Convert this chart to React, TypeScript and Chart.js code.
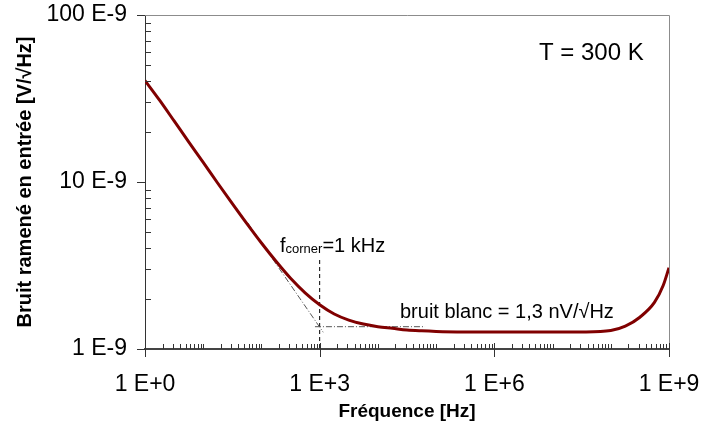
import React, { useEffect, useRef } from "react";
import { Chart, registerables } from "chart.js";

Chart.register(...registerables);

// ---- data (frequency in Hz, noise in nV/√Hz) ----
const freqHz = [1, 1.778, 3.162, 5.623, 10, 17.78, 31.62, 56.23, 100, 177.8, 316.2, 562.3, 1000, 1778, 3162, 5623, 1e4, 1.778e4, 3.162e4, 5.623e4, 1e5, 3.162e5, 1e6, 3.162e6, 1e7, 3.162e7, 1e8, 1.778e8, 3.162e8, 5.623e8, 7.943e8, 1e9];
const noiseNV = [40.5, 30.9, 23.2, 17.4, 13.1, 9.83, 7.42, 5.63, 4.31, 3.35, 2.65, 2.17, 1.84, 1.62, 1.49, 1.41, 1.36, 1.33, 1.3, 1.285, 1.275, 1.265, 1.262, 1.262, 1.262, 1.265, 1.29, 1.37, 1.55, 1.9, 2.4, 3.07];

// asymptotes
const flickerFreq = [58, 1150];
const flickerNV = [5.7, 1.26];
const whiteFreq = [830, 64500];
const whiteNV = [1.36, 1.36];
const cornerFreq = [1000, 1000];
const cornerNV = [3.41, 1];

// axes
const xTickValues = [1, 1e3, 1e6, 1e9];
const xTickLabels = ["1 E+0", "1 E+3", "1 E+6", "1 E+9"];
const yTickValues = [1, 10, 100];
const yTickLabels = ["1 E-9", "10 E-9", "100 E-9"];

const xTitle = "Fréquence [Hz]";
const yTitle = "Bruit ramené en entrée [V/√Hz]";
const tempLabel = "T = 300 K";
const whiteLabel = "bruit blanc = 1,3 nV/√Hz";

const FONT = '"Liberation Sans", Arial, Helvetica, sans-serif';

const zip = (xs: number[], ys: number[]) => xs.map((x, i) => ({ x, y: ys[i] }));

const zeroPad = (scale: any) => {
  scale.paddingLeft = 0;
  scale.paddingRight = 0;
  scale.paddingTop = 0;
  scale.paddingBottom = 0;
};

const decorPlugin = {
  id: "decor",
  afterDraw(chart: any) {
    const { ctx, chartArea, scales } = chart;
    const { left, right, top, bottom } = chartArea;
    const x = scales.x;
    const y = scales.y;
    ctx.save();
    // top & right frame
    ctx.strokeStyle = "#8c8c8c";
    ctx.lineWidth = 1;
    ctx.beginPath();
    ctx.moveTo(left, top + 0.5);
    ctx.lineTo(Math.round(right) + 0.5, top + 0.5);
    ctx.lineTo(Math.round(right) + 0.5, bottom);
    ctx.stroke();

    ctx.strokeStyle = "#333";
    ctx.lineWidth = 1;
    ctx.beginPath();
    // x minor ticks (inward)
    for (let k = 0; k < 9; k++) {
      for (let m = 1; m <= 9; m++) {
        if (m === 1 && k % 3 === 0) continue;
        const px = Math.round(x.getPixelForValue(m * Math.pow(10, k))) + 0.5;
        ctx.moveTo(px, bottom - 5);
        ctx.lineTo(px, bottom);
      }
    }
    // x major ticks
    for (const v of xTickValues) {
      const px = Math.round(x.getPixelForValue(v)) + 0.5;
      ctx.moveTo(px, bottom - 6);
      ctx.lineTo(px, bottom + 8);
    }
    // y minor ticks (inward)
    for (let k = 0; k < 2; k++) {
      for (let m = 2; m <= 9; m++) {
        const py = Math.round(y.getPixelForValue(m * Math.pow(10, k))) + 0.5;
        ctx.moveTo(left, py);
        ctx.lineTo(left + 6, py);
      }
    }
    // y major ticks
    for (const v of yTickValues) {
      const py = Math.round(y.getPixelForValue(v)) + 0.5;
      ctx.moveTo(left - 8, py);
      ctx.lineTo(left, py);
    }
    ctx.stroke();

    // annotations
    ctx.fillStyle = "#000";
    ctx.textAlign = "left";
    ctx.textBaseline = "alphabetic";
    ctx.font = `24px ${FONT}`;
    ctx.fillText(tempLabel, 539, 59.5);

    ctx.font = `20px ${FONT}`;
    ctx.fillText(whiteLabel, 400, 318);

    let cx = 280;
    ctx.fillText("f", cx, 252);
    cx += ctx.measureText("f").width;
    ctx.font = `13px ${FONT}`;
    ctx.fillText("corner", cx, 253);
    cx += ctx.measureText("corner").width;
    ctx.font = `20px ${FONT}`;
    ctx.fillText("=1 kHz", cx, 252);
    ctx.restore();
  },
};

export default function App() {
  const ref = useRef<HTMLCanvasElement | null>(null);

  useEffect(() => {
    if (!ref.current) return;
    const chart = new Chart(ref.current, {
      type: "line",
      data: {
        datasets: [
          {
            data: zip(freqHz, noiseNV),
            borderColor: "#800000",
            borderWidth: 3,
            pointRadius: 0,
            cubicInterpolationMode: "monotone",
            fill: false,
          },
          {
            data: zip(flickerFreq, flickerNV),
            borderColor: "#555",
            borderWidth: 1,
            borderDash: [6, 2, 1, 2],
            pointRadius: 0,
            fill: false,
          },
          {
            data: zip(whiteFreq, whiteNV),
            borderColor: "#555",
            borderWidth: 1,
            borderDash: [6, 2, 1, 2],
            pointRadius: 0,
            fill: false,
          },
          {
            data: zip(cornerFreq, cornerNV),
            borderColor: "#000",
            borderWidth: 1,
            borderDash: [4, 3],
            pointRadius: 0,
            fill: false,
          },
        ],
      },
      options: {
        animation: false,
        responsive: true,
        maintainAspectRatio: false,
        layout: { padding: { top: 15, right: 35, left: 0, bottom: 0 }, autoPadding: false },
        plugins: { legend: { display: false }, tooltip: { enabled: false } },
        scales: {
          x: {
            type: "logarithmic",
            min: 1,
            max: 1e9,
            grid: { display: false, drawTicks: false },
            border: { display: true, color: "#444", width: 2 },
            afterBuildTicks: (scale: any) => {
              scale.ticks = xTickValues.map((v) => ({ value: v, major: true }));
            },
            afterFit: (scale: any) => {
              scale.height = 80;
              zeroPad(scale);
            },
            ticks: {
              autoSkip: false,
              maxRotation: 0,
              padding: 22,
              color: "#000",
              font: { family: FONT, size: 23 },
              callback: (_v: any, i: number) => xTickLabels[i],
            },
            title: {
              display: true,
              text: xTitle,
              color: "#000",
              font: { family: FONT, size: 19, weight: "bold" },
              padding: { top: 0, bottom: 6 },
            },
          },
          y: {
            type: "logarithmic",
            min: 1,
            max: 100,
            grid: { display: false, drawTicks: false },
            border: { display: true, color: "#333", width: 1 },
            afterBuildTicks: (scale: any) => {
              scale.ticks = yTickValues.map((v) => ({ value: v, major: true }));
            },
            afterFit: (scale: any) => {
              scale.width = 145;
              zeroPad(scale);
            },
            ticks: {
              autoSkip: false,
              padding: 18,
              color: "#000",
              font: { family: FONT, size: 23 },
              callback: (_v: any, i: number) => yTickLabels[i],
            },
            title: {
              display: true,
              text: yTitle,
              color: "#000",
              font: { family: FONT, size: 20, weight: "bold" },
              padding: { top: 13, bottom: 0 },
            },
          },
        },
      },
      plugins: [decorPlugin],
    } as any);
    return () => chart.destroy();
  }, []);

  return (
    <div style={{ position: "fixed", left: 0, top: 0, width: 704, height: 429, background: "#fff" }}>
      <canvas ref={ref} />
    </div>
  );
}
